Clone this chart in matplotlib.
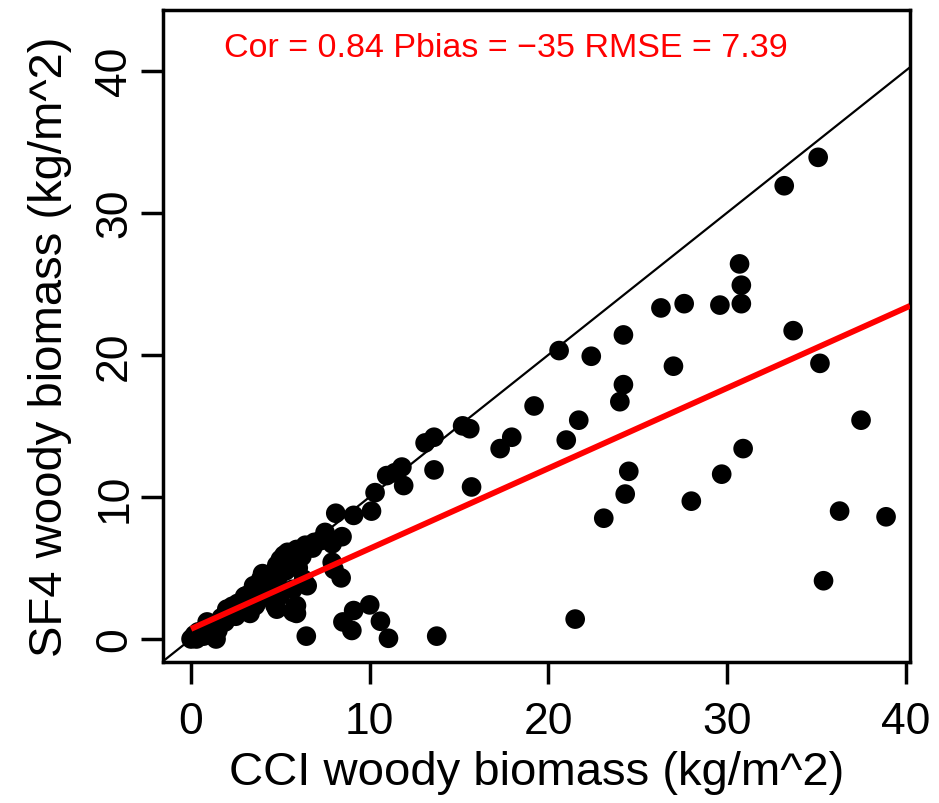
import matplotlib
matplotlib.use("Agg")
import matplotlib.pyplot as plt
import numpy as np

# CCI (x) vs SF4 (y) woody biomass, kg/m^2
cci = [35.1, 33.2, 30.7, 30.8, 30.8, 29.6, 27.6, 26.3, 20.6, 22.4,
       24.2, 27.0, 33.7, 35.2, 24.2, 24.0, 21.7, 21.0, 37.5, 30.9,
       24.5, 24.3, 29.7, 28.0, 23.1, 36.3, 38.9, 35.4, 21.5, 19.2,
       17.95, 17.3, 15.6, 15.2, 15.7, 13.6, 13.1, 13.6, 11.8, 11.4,
       10.95, 11.9, 10.3, 10.1, 9.1, 8.1, 8.45, 7.9, 7.4, 7.5,
       6.9, 6.4, 5.9, 5.4, 5.2, 5.0, 4.8, 5.5, 5.7, 7.9,
       8.0, 8.4, 4.0, 3.5, 3.1, 2.85, 3.6, 4.7, 5.8, 5.9,
       6.45, 6.3, 6.5, 5.7, 9.1, 10.0, 8.5, 9.0, 10.6, 11.05,
       13.75, 0.0, 0.1, 0.3, 0.7, 1.4, 1.5, 0.9, 0.4, 1.2,
       1.7, 2.0, 2.2, 2.6, 2.7, 3.3, 3.7, 3.9, 4.4, 4.8,
       5.0, 4.8, 5.9, 5.7, 3.0, 3.4, 4.2, 4.5, 2.3, 1.0,
       0.2, 4.3, 5.3, 6.0, 6.2, 6.8, 7.2, 5.6, 4.9, 1.9,
       2.5, 3.2, 3.8, 4.6]
sf4 = [33.9, 31.9, 26.4, 24.9, 23.6, 23.5, 23.6, 23.3, 20.3, 19.9,
       21.4, 19.2, 21.7, 19.4, 17.9, 16.7, 15.4, 14.0, 15.4, 13.4,
       11.8, 10.2, 11.6, 9.7, 8.5, 9.0, 8.6, 4.1, 1.4, 16.4,
       14.2, 13.4, 14.8, 15.0, 10.7, 14.2, 13.8, 11.9, 12.1, 11.7,
       11.5, 10.8, 10.3, 9.0, 8.7, 8.85, 7.2, 6.7, 7.0, 7.5,
       6.8, 6.6, 6.3, 6.1, 5.9, 5.6, 5.2, 5.2, 5.4, 5.4,
       4.9, 4.3, 4.6, 3.75, 3.05, 2.1, 2.35, 2.35, 2.2, 1.8,
       0.2, 4.2, 3.75, 3.5, 2.0, 2.4, 1.2, 0.6, 1.25, 0.05,
       0.2, 0.0, 0.1, 0.0, 0.2, 0.0, 0.6, 1.2, 0.5, 0.9,
       1.5, 2.1, 1.9, 2.5, 1.9, 1.8, 2.6, 4.2, 3.3, 3.75,
       3.05, 2.1, 2.35, 1.9, 3.0, 3.3, 4.0, 4.4, 2.3, 0.4,
       0.3, 3.8, 4.8, 5.0, 5.8, 6.4, 6.9, 5.9, 4.4, 1.2,
       1.6, 2.2, 2.9, 3.1]

fit_intercept = 0.71
fit_slope = 0.565
stats_text = "Cor = 0.84 Pbias = \u221235 RMSE = 7.39"

xlims = (-1.57, 40.24)
ylims = (-1.62, 44.27)

plt.rcParams['font.family'] = ['Liberation Sans', 'DejaVu Sans']

fig = plt.figure(figsize=(9.39, 8.04), dpi=100)
ax = fig.add_axes([163 / 939, 1 - 663 / 804, 747 / 939, 652 / 804])

# 1:1 line and regression line
ax.plot(xlims, xlims, color='black', lw=1.6, zorder=1)
xr = np.array([0, xlims[1]])
ax.plot(xr, fit_intercept + fit_slope * xr, color='red', lw=4.2, zorder=3,
        solid_capstyle='butt')
ax.scatter(cci, sf4, s=200, c='black', edgecolors='none', zorder=2)

ax.text(17.6, 41.6, stats_text, color='red', fontsize=24.5, ha='center', va='center')

ax.set_xlim(*xlims)
ax.set_ylim(*ylims)
ax.set_xticks([0, 10, 20, 30, 40])
ax.set_yticks([0, 10, 20, 30, 40])
for s in ax.spines.values():
    s.set_linewidth(2.5)
ax.tick_params(length=16, width=2.5, labelsize=32)
ax.tick_params(axis='x', pad=12)
ax.tick_params(axis='y', labelrotation=90, pad=4)
for lab in ax.get_yticklabels():
    lab.set_va('center')

ax.set_xlabel("CCI woody biomass (kg/m^2)", fontsize=34)
ax.set_ylabel("SF4 woody biomass (kg/m^2)", fontsize=34)
ax.xaxis.set_label_coords(0.5, -0.135)
ax.yaxis.set_label_coords(-0.122, 0.485)

fig.savefig("out.png", dpi=100)
